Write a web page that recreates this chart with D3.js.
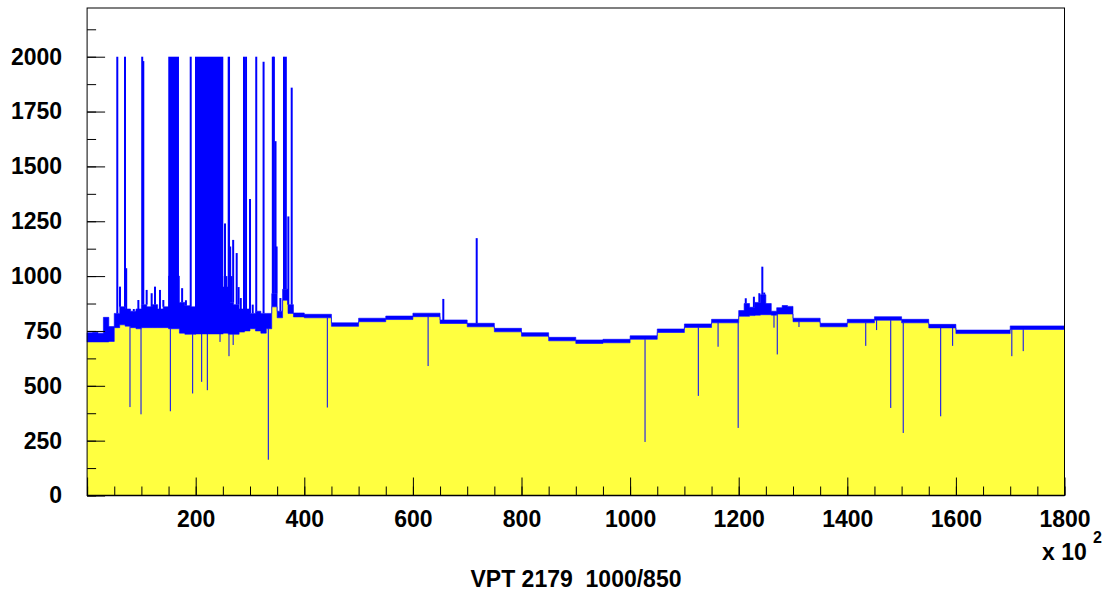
<!DOCTYPE html>
<html><head><meta charset="utf-8">
<script src="https://cdn.jsdelivr.net/npm/d3@7"></script>
<style>
body{margin:0;background:#fff;}
text{font-family:"Liberation Sans",Arial,Helvetica,sans-serif;font-weight:bold;}
</style></head><body>
<svg id="c" width="1113" height="597"></svg>
<script>
// ---- data (x in units of 10^2) ----
const segEdges = [0,10,20,30,40,50,60,70,80,90,100,110,120,130,140,150,160,170,180,190,
  200,210,220,230,240,250,260,270,280,290,300,310,320,330,340,350,360,370,380,390,400,
  450,500,550,600,650,700,750,800,850,900,950,1000,1050,1100,1150,1200,
  1210,1220,1230,1240,1250,1260,1270,1280,1290,1300,
  1350,1400,1450,1500,1550,1600,1700,1800];
const segLow = [700,700,700,700,702, 765,778,772,765,760, 765,765,765,765,765, 760,760,740,735,735,
  760,760,755,755,755, 740,735,735,745,750, 760,750,740,760,860, 810,890,830,814,814,
  810,771,792,802,815,784,769,746,726,705,693,696,712,743,766,787,
  817,817,820,822,824,824,822,827,827,827,
  792,769,787,799,787,764,738,757];
const segHigh = [742,744,740,812,770, 830,860,850,840,850, 870,860,870,850,860, 1000,1000,880,865,860,
  1000,1000,1000,1000,1000, 950,880,870,850,850, 830,840,830,830,920, 840,940,870,832,832,
  826,787,808,818,831,800,785,762,742,721,709,712,728,759,782,803,
  843,875,858,880,915,875,840,856,866,862,
  808,785,803,815,803,780,754,773];
// dense spike blocks
const blockX0 = [149.5, 198.7, 258.9];
const blockX1 = [169.2, 250.8, 263.2];
const blockTop = [2000, 2000, 2000];
// single upward spikes
const spikeX = [55.6,69.8,101.5,103.5,190.8,289,292.7,311.5,325,342,344,362.6,366,376.8,
  60.6,72,86,94.4,109.7,118.9,125,134.2,140.4,175,182,254,256.5,263.5,266,269,275.5,279,283,300,305,347,349,356,370.6,
  656,717.5,1213,1228,1238,1243.5,1247];
const spikeTop = [2000,2000,2000,1980,2000,2000,2000,2000,1977,2000,2000,2000,2000,1859,
  952,1036,850,891,937,922,952,937,891,945,890,1240,1000,1135,1000,1165,1105,950,900,1351,870,1615,1135,900,1272,
  896,1173,899,906,922,1043,925];
// downward dips
const dipX = [79,99.3,153.3,194.4,211,221.4,244.8,261.3,269,333.7,442.4,628,1027.5,1125.6,1162,1199,
  1265,1271,1311,1434,1454,1480,1503,1572,1594,1703,1724];
const dipBottom = [403,370,384,465,518,480,700,635,686,163,401,590,244,454,678,308,
  765,643,768,682,754,399,285,361,682,635,658];
// axes
const xMajorTicks = [0,200,400,600,800,1000,1200,1400,1600,1800];
const yMajorTicks = [0,250,500,750,1000,1250,1500,1750,2000];
const titleText = "VPT 2179\u00a0\u00a01000/850";

// ---- drawing ----
const W=1113,H=597;
const L=87.1,R=1064.5,T=8,B=495.5;
const x=d3.scaleLinear().domain([0,1800]).range([L,R]);
const y=d3.scaleLinear().domain([0,2222]).range([B,T]);
const svg=d3.select('#c');
svg.append('rect').attr('width',W).attr('height',H).attr('fill','#fff');

const segs = segLow.map((v,i)=>({x0:segEdges[i],x1:segEdges[i+1],lo:v,hi:segHigh[i]}));
const pts = segs.flatMap(s=>[[s.x0,s.lo,s.hi],[s.x1,s.lo,s.hi]]);
const segIdx = v => Math.max(0, Math.min(segs.length-1, d3.bisectRight(segEdges, v)-1));

const YEL='#ffff40', BLU='#0000ff';
svg.append('path')
  .attr('d', d3.area().x(d=>x(d[0])).y0(y(0)).y1(d=>y(d[1]))(pts))
  .attr('fill',YEL);

// blocks
svg.append('g').selectAll('rect').data(blockX0).join('rect')
  .attr('x',(d)=>x(d)).attr('width',(d,i)=>x(blockX1[i])-x(d))
  .attr('y',(d,i)=>y(blockTop[i]))
  .attr('height',(d,i)=>y(segLow[segIdx(d)])-y(blockTop[i]))
  .attr('fill',BLU);

// blue band
svg.append('path')
  .attr('d', d3.area().x(d=>x(d[0])).y0(d=>y(d[1])).y1(d=>y(d[2]))(pts))
  .attr('fill',BLU).attr('stroke',BLU).attr('stroke-width',0.6);

// spikes
svg.append('g').selectAll('line').data(spikeX).join('line')
  .attr('x1',d=>x(d)).attr('x2',d=>x(d))
  .attr('y1',d=>y(segHigh[segIdx(d)])).attr('y2',(d,i)=>y(spikeTop[i]))
  .attr('stroke',BLU).attr('stroke-width',2);

// dips
svg.append('g').selectAll('line').data(dipX).join('line')
  .attr('x1',d=>x(d)).attr('x2',d=>x(d))
  .attr('y1',d=>y(segLow[segIdx(d)])).attr('y2',(d,i)=>y(dipBottom[i]))
  .attr('stroke',BLU).attr('stroke-width',1);

// axes
function style(g){
  g.select('.domain').remove();
  g.selectAll('line').attr('stroke','#000').attr('stroke-width',1);
  g.selectAll('text').attr('font-size','23px').attr('fill','#000')
   .attr('font-family','"Liberation Sans",Arial,sans-serif').attr('font-weight','bold');
}
svg.append('g').attr('transform',`translate(0,${B})`)
  .call(d3.axisBottom(x).tickValues(d3.range(0,1801,50)).tickSize(-9).tickSizeOuter(0).tickFormat(''))
  .call(style);
svg.append('g').attr('transform',`translate(0,${B})`)
  .call(d3.axisBottom(x).tickValues(xMajorTicks).tickSize(-18).tickSizeOuter(0).tickPadding(15)
    .tickFormat(d=>d===0?'':d3.format('d')(d)))
  .call(style);
svg.append('g').attr('transform',`translate(${L},0)`)
  .call(d3.axisLeft(y).tickValues(d3.range(0,2222,125)).tickSize(-9).tickSizeOuter(0).tickFormat(''))
  .call(style);
svg.append('g').attr('transform',`translate(${L},0)`)
  .call(d3.axisLeft(y).tickValues(yMajorTicks).tickSize(-18).tickSizeOuter(0).tickPadding(25)
    .tickFormat(d3.format('d')))
  .call(style);

// frame
svg.append('rect').attr('x',L).attr('y',T).attr('width',R-L).attr('height',B-T)
  .attr('fill','none').attr('stroke','#000').attr('stroke-width',1);
svg.append('line').attr('x1',L).attr('x2',R).attr('y1',B).attr('y2',B)
  .attr('stroke','#000').attr('stroke-width',1.5);

// exponent label
svg.append('text').attr('x',1042).attr('y',560).attr('font-size','23px').text('x 10');
svg.append('text').attr('x',1093).attr('y',543).attr('font-size','16px').text('2');
// title
svg.append('text').attr('x',576).attr('y',587).attr('text-anchor','middle')
  .attr('font-size','23px').text(titleText);
</script>
</body></html>
